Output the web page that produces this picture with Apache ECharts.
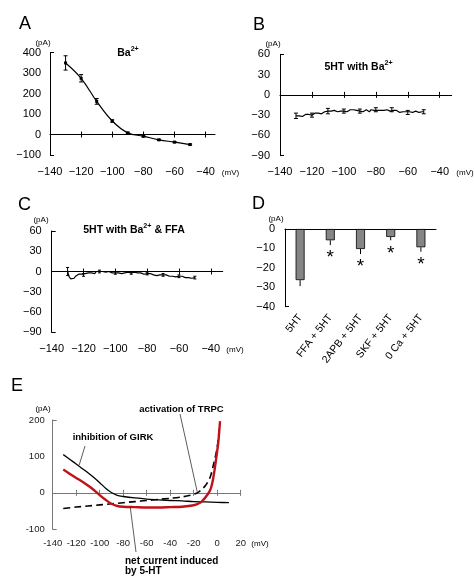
<!DOCTYPE html>
<html><head><meta charset="utf-8">
<script src="https://cdn.jsdelivr.net/npm/echarts@6/dist/echarts.min.js"></script>
<style>html,body{margin:0;padding:0;background:#fff}#c{width:474px;height:577px}</style>
</head><body><div id="c"></div>
<script>
// ---------- DATA ----------
// Panel A: Ba2+ sensitive current
const aVolt = [-130, -120, -110, -100, -90, -80, -70, -60, -50];
const aCurr = [350, 275, 162, 66, 8, -8, -26, -37, -49];
const aErr  = [35, 18, 14, 6, 3, 4, 3, 3, 3];

// Panel B & C: ramp traces sampled every 1 mV from -130 to -50
const traceStart = -130, traceEnd = -50;
const bCurr = [
  -31,-33,-31,-30,-32,-30,-29,-31,-29,-28,
  -30,-28,-27,-29,-27,-26,-28,-26,-25,-27,
  -24,-22,-24,-25,-23,-23,-25,-23,-24,-22,
  -24,-23,-25,-23,-22,-24,-22,-24,-23,-21,
  -24,-23,-25,-23,-22,-23,-25,-22,-24,-23,
  -22,-23,-25,-23,-21,-23,-24,-22,-22,-24,
  -22,-23,-25,-23,-24,-26,-24,-25,-23,-25,
  -26,-25,-24,-26,-26,-24,-24,-26,-25,-25,
  -25];
const bErrVolt = [-130, -120, -110, -100, -90, -80, -70, -60, -50];
const bErr     = [4, 3, 4, 3, 3, 3, 3, 3, 3];

const cCurr = [
  0,-8,-11,-13,-10,-7,-6,-4,-6,-4,
  -5,-3,-5,-2,-3,-2,-1,-3,0,1,
  0,-2,0,1,-1,-1,0,-2,-2,-1,
  -2,0,-2,-1,-3,-1,-2,-3,-1,-1,
  -2,-3,-1,-3,-2,-4,-2,-3,-4,-2,
  -3,-4,-3,-5,-5,-4,-6,-4,-5,-6,
  -5,-7,-5,-6,-7,-5,-7,-6,-8,-8,
  -7,-9,-7,-8,-9,-7,-9,-8,-10,-8,
  -9];
const cErrVolt = [-130, -120, -110, -100, -90, -80, -70, -60, -50];
const cErr     = [6, 2, 2, 2, 2, 2, 2, 2, 2];

// Panel D: bar chart
const dCats = ['5HT', 'FFA + 5HT', '2APB + 5HT', 'SKF + 5HT', '0 Ca + 5HT'];
const dMean = [-26.3, -5.8, -10.3, -4.1, -9.4];
const dErr  = [3.1, 2.5, 2.6, 1.7, 2.3];
const dSig  = [false, true, true, true, true];

// Panel E: schematic I-V curves
const eGirkVolt = [-131,-125,-120,-115,-110,-105,-100,-95,-90,-85,-80,-70,-60,-50,-40,-30,-20,-10,0,10];
const eGirkCurr = [105,91,79,67,55,42,28,13,1,-7,-10,-14,-17,-19,-21,-22,-24,-25,-26,-27];
const eTrpcVolt = [-131,-120,-110,-100,-90,-80,-70,-60,-50,-40,-30,-25,-20,-17,-14,-10,-6,-3,0,2.4];
const eTrpcCurr = [-43,-39,-36,-33,-30,-27,-24,-21,-18,-15,-11,-8,-4,0,7,20,43,80,125,196];
const eNetVolt  = [-131,-125,-120,-115,-110,-105,-100,-95,-90,-85,-80,-70,-60,-50,-40,-30,-20,-15,-12,-9,-6,-4,-2,0,1,2.4];
const eNetCurr  = [64,51,41,31,20,8,-6,-19,-30,-36,-38,-39,-40,-40,-39,-38,-34,-28,-20,-8,7,30,68,115,140,196];

// Tick labels
const ivTicks  = [-140, -120, -100, -80, -60, -40];
const eTicks   = [-140, -120, -100, -80, -60, -40, -20, 0, 20];

// ---------- CHART ----------
const FONT = 'Liberation Sans, Arial, Helvetica, sans-serif';
const fmt = v => (v < 0 ? '\u2212' : '') + Math.abs(v);
const fmtHy = v => String(v);
const chart = echarts.init(document.getElementById('c'), null, {renderer: 'canvas'});

const grids = [
  {left: 50,    top: 52.7, width: 165,   height: 102.3},  // A
  {left: 280,   top: 54.3, width: 171.7, height: 101.4},  // B
  {left: 51.7,  top: 231,  width: 171,   height: 101.3},  // C
  {left: 285,   top: 229,  width: 151,   height: 77.7},   // D
  {left: 52.7,  top: 420,  width: 188,   height: 109.3}   // E
].map(g => Object.assign({outerBoundsMode: 'none', containLabel: false}, g));

const xAxes = [], yAxes = [];
function valueX(gi, min, max, labels, color, lineColor, size, margin, f) {
  const ticks = labels.filter(v => v !== min);
  const idx = xAxes.length;
  xAxes.push({gridIndex: gi, type: 'value', position: 'bottom', min, max,
    axisLine: {show: false, onZero: false}, axisTick: {show: false}, splitLine: {show: false},
    axisLabel: {customValues: labels, formatter: f, fontSize: size, color: color, margin: margin, fontFamily: FONT}});
  xAxes.push({gridIndex: gi, type: 'value', position: 'bottom', min, max,
    axisLine: {show: true, onZero: true, onZeroAxisIndex: gi, lineStyle: {color: lineColor, width: 1}},
    axisTick: {show: true, inside: false, length: 3, customValues: ticks, lineStyle: {color: lineColor}},
    axisLabel: {show: false}, splitLine: {show: false}});
  xAxes.push({gridIndex: gi, type: 'value', position: 'bottom', min, max,
    axisLine: {show: false, onZero: true, onZeroAxisIndex: gi},
    axisTick: {show: true, inside: true, length: 3, customValues: ticks, lineStyle: {color: lineColor}},
    axisLabel: {show: false}, splitLine: {show: false}});
  return idx;
}
function valueY(gi, min, max, interval, color, lineColor, size, margin, f) {
  yAxes.push({gridIndex: gi, type: 'value', min, max, interval,
    axisLine: {show: true, onZero: false, lineStyle: {color: lineColor, width: 1}},
    axisTick: {show: true, inside: true, length: 4, customValues: [min, max], lineStyle: {color: lineColor}},
    splitLine: {show: false},
    axisLabel: {formatter: f, fontSize: size, color: color, margin: margin, fontFamily: FONT}});
}

const xa = valueX(0, -140, -34, ivTicks, '#000', '#000', 11, 11.5, fmt);
valueY(0, -100, 400, 100, '#000', '#000', 11, 9, fmt);
const xb = valueX(1, -140, -32.5, ivTicks, '#000', '#000', 11, 11, fmt);
valueY(1, -90, 60, 30, '#000', '#000', 11, 10, fmt);
const xc = valueX(2, -140, -32.5, ivTicks, '#000', '#000', 11, 11, fmt);
valueY(2, -90, 60, 30, '#000', '#000', 11, 10, fmt);
const xd = xAxes.length;
xAxes.push({gridIndex: 3, type: 'category', data: dCats, position: 'bottom', boundaryGap: true,
  axisLine: {show: false}, axisTick: {show: false},
  axisLabel: {rotate: 52, fontSize: 10.5, color: '#000', margin: 9, fontFamily: FONT, interval: 0}});
xAxes.push({gridIndex: 3, type: 'category', data: dCats, position: 'top', boundaryGap: true,
  axisLine: {show: true, lineStyle: {color: '#000', width: 1}}, axisTick: {show: false}, axisLabel: {show: false}});
valueY(3, -40, 0, 10, '#000', '#000', 11, 10, fmt);
const xe = valueX(4, -140, 20, eTicks, '#222', '#777', 9.5, 9, fmtHy);
valueY(4, -100, 200, 100, '#222', '#777', 9.5, 8, fmtHy);

function pairs(xs, ys) { return xs.map((x, i) => [x, ys[i]]); }
const traceVolt = [];
for (let v = traceStart; v <= traceEnd; v++) traceVolt.push(v);
function errRows(volts, trace, errs) {
  return volts.map((v, i) => [v, trace[traceVolt.indexOf(v)], errs[i]]);
}
function errRender(capW) {
  return function (params, api) {
    const x = api.value(0), y = api.value(1), e = api.value(2);
    const t = api.coord([x, y + e]), b = api.coord([x, y - e]);
    const st = {stroke: '#000', lineWidth: 1};
    return {type: 'group', children: [
      {type: 'line', shape: {x1: t[0], y1: t[1], x2: b[0], y2: b[1]}, style: st},
      {type: 'line', shape: {x1: t[0] - capW, y1: t[1], x2: t[0] + capW, y2: t[1]}, style: st},
      {type: 'line', shape: {x1: b[0] - capW, y1: b[1], x2: b[0] + capW, y2: b[1]}, style: st}
    ]};
  };
}

const series = [
  // A
  {type: 'line', xAxisIndex: xa, yAxisIndex: 0, data: pairs(aVolt, aCurr), smooth: 0.4,
   symbol: 'rect', symbolSize: 3, itemStyle: {color: '#000'}, lineStyle: {color: '#000', width: 1.2}, z: 3},
  {type: 'custom', xAxisIndex: xa, yAxisIndex: 0, data: aVolt.map((v, i) => [v, aCurr[i], aErr[i]]),
   renderItem: errRender(2), z: 4},
  // B
  {type: 'line', xAxisIndex: xb, yAxisIndex: 1, data: pairs(traceVolt, bCurr), symbol: 'none',
   lineStyle: {color: '#000', width: 1.2}},
  {type: 'custom', xAxisIndex: xb, yAxisIndex: 1, data: errRows(bErrVolt, bCurr, bErr), renderItem: errRender(2)},
  // C
  {type: 'line', xAxisIndex: xc, yAxisIndex: 2, data: pairs(traceVolt, cCurr), symbol: 'none',
   lineStyle: {color: '#000', width: 1.2}},
  {type: 'custom', xAxisIndex: xc, yAxisIndex: 2, data: errRows(cErrVolt, cCurr, cErr), renderItem: errRender(1.5)},
  // D
  {type: 'bar', xAxisIndex: xd, yAxisIndex: 3, data: dMean, barWidth: 9,
   itemStyle: {color: '#858585', borderColor: '#000', borderWidth: 0.8}},
  {type: 'custom', xAxisIndex: xd, yAxisIndex: 3, data: dCats.map((c, i) => [i, dMean[i], dErr[i], dSig[i] ? 1 : 0]),
   renderItem: function (params, api) {
     const i = api.value(0), m = api.value(1), e = api.value(2), s = api.value(3);
     const a = api.coord([i, m]), b = api.coord([i, m - e]);
     const ch = [{type: 'line', shape: {x1: a[0], y1: a[1], x2: b[0], y2: b[1]}, style: {stroke: '#000', lineWidth: 1}}];
     if (s) ch.push({type: 'text', x: b[0], y: b[1] + 13,
       style: {text: '*', fontSize: 19, fontFamily: FONT, fill: '#000', align: 'center', verticalAlign: 'middle',
               textAlign: 'center', textVerticalAlign: 'middle'}});
     return {type: 'group', children: ch};
   }, z: 5},
  // E
  {type: 'line', xAxisIndex: xe, yAxisIndex: 4, data: pairs(eGirkVolt, eGirkCurr), smooth: 0.3, symbol: 'none',
   lineStyle: {color: '#000', width: 1.3}, z: 3},
  {type: 'line', xAxisIndex: xe, yAxisIndex: 4, data: pairs(eTrpcVolt, eTrpcCurr), smooth: 0.3, symbol: 'none',
   lineStyle: {color: '#000', width: 1.6, type: [7, 4]}, z: 3},
  {type: 'line', xAxisIndex: xe, yAxisIndex: 4, data: pairs(eNetVolt, eNetCurr), smooth: 0.3, symbol: 'none',
   lineStyle: {color: '#c0121b', width: 2.4}, z: 4}
];

function txt(t, x, y, size, weight, align, color) {
  return {type: 'text', x: x, y: y, silent: true, z: 10,
    style: {text: t, fontSize: size, fontWeight: weight || 'normal', fontFamily: FONT, fill: color || '#000',
            align: align || 'center', verticalAlign: 'middle', textAlign: align || 'center', textVerticalAlign: 'middle'}};
}
function supTxt(main, sup, rest, x, y, size) {
  return {type: 'text', x: x, y: y, silent: true, z: 10,
    style: {text: '{n|' + main + '}{s|' + sup + '}' + (rest ? '{n|' + rest + '}' : ''),
      align: 'center', verticalAlign: 'middle', textAlign: 'center', textVerticalAlign: 'middle',
      rich: {n: {fontSize: size, fontWeight: 'bold', fontFamily: FONT, fill: '#000', lineHeight: 13, verticalAlign: 'bottom'},
             s: {fontSize: size * 0.68, fontWeight: 'bold', fontFamily: FONT, fill: '#000', lineHeight: 13, verticalAlign: 'top'}}}};
}

const graphic = [
  txt('A', 25, 24, 18), txt('B', 259, 25, 18), txt('C', 24.5, 205, 18), txt('D', 258.5, 204, 18), txt('E', 17, 386, 18),
  txt('(pA)', 43, 42.5, 8), txt('(pA)', 273, 43.5, 8), txt('(pA)', 41, 219.5, 8), txt('(pA)', 276, 218.5, 8), txt('(pA)', 43, 409, 8),
  txt('(mV)', 230.5, 172.7, 8), txt('(mV)', 465, 172.5, 8), txt('(mV)', 235, 349.5, 8), txt('(mV)', 260, 544, 8),
  supTxt('Ba', '2+', '', 128, 52.5, 10.5),
  supTxt('5HT with Ba', '2+', '', 358.5, 66.5, 10.5),
  supTxt('5HT with Ba', '2+', ' & FFA', 134, 229.5, 10.5),
  txt('inhibition of GIRK', 113, 437.5, 9.5, 'bold'),
  txt('activation of TRPC', 181.5, 409.5, 9.5, 'bold'),
  txt('net current induced', 125, 561, 10, 'bold', 'left'),
  txt('by 5-HT', 125, 571.5, 10, 'bold', 'left')
];

chart.setOption({
  animation: false,
  backgroundColor: '#fff',
  textStyle: {fontFamily: FONT},
  grid: grids, xAxis: xAxes, yAxis: yAxes, series: series, graphic: graphic
});

// Leader lines for annotations in panel E (anchored to curve points in data space)
const leaders = [
  {from: [85, 446], to: [-117.5, 76]},
  {from: [180, 414], to: [-17, 3]},
  {from: [136, 552], to: [-74, -39]}
];
const lines = leaders.map(l => {
  const p = chart.convertToPixel({xAxisIndex: xe, yAxisIndex: 4}, l.to);
  return {type: 'line', silent: true, z: 9, shape: {x1: l.from[0], y1: l.from[1], x2: p[0], y2: p[1]},
          style: {stroke: '#333', lineWidth: 0.8}};
});
chart.setOption({graphic: graphic.concat(lines)});
</script></body></html>
